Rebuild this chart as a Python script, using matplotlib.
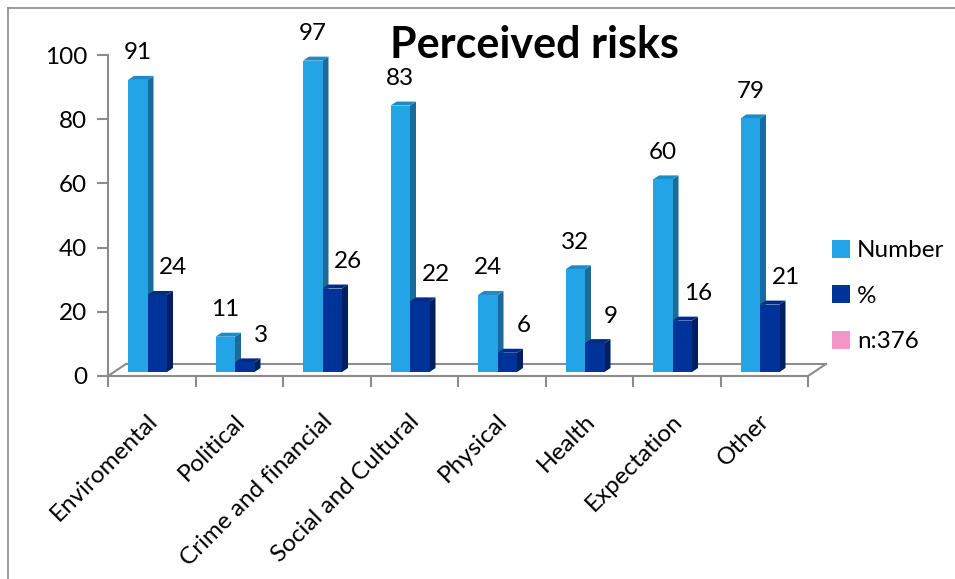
import matplotlib
matplotlib.use("Agg")
import matplotlib.pyplot as plt
from matplotlib.patches import Polygon, Patch
from matplotlib.lines import Line2D
import matplotlib.transforms as mtransforms

categories = ["Enviromental", "Political", "Crime and financial", "Social and Cultural",
              "Physical", "Health", "Expectation", "Other"]
number = [91, 11, 97, 83, 24, 32, 60, 79]
percent = [24, 3, 26, 22, 6, 9, 16, 21]
series_names = ["Number", "%", "n:376"]

W, H = 955, 579
DPI = 100
plt.rcParams['font.family'] = ['Lato', 'DejaVu Sans']

fig = plt.figure(figsize=(W / DPI, H / DPI), dpi=DPI)
fig.patch.set_facecolor('white')

ax_l, ax_r, ax_b, ax_t = 108, 808, 376, 55
ax = fig.add_axes([ax_l / W, (H - ax_b) / H, (ax_r - ax_l) / W, (ax_b - ax_t) / H])
ax.set_xlim(0, 8)
ax.set_ylim(0, 100)
ax.patch.set_alpha(0)

px_x = (ax_r - ax_l) / 8.0      # pixels per x unit
px_y = (ax_b - ax_t) / 100.0    # pixels per y unit

grey = '#8c8c8c'
for s in ['top', 'right', 'bottom']:
    ax.spines[s].set_visible(False)
ax.spines['left'].set_color(grey)
ax.spines['left'].set_linewidth(1.5)

ax.set_yticks([0, 20, 40, 60, 80, 100])
ax.tick_params(axis='y', length=8, width=1.5, color=grey, labelsize=17.5, pad=7, labelcolor='black')
ax.set_xticks(range(9))
ax.set_xticklabels([])
ax.tick_params(axis='x', which='major', length=8, width=1.5, color=grey, direction='out')
ax.set_xticks([i + 0.5 for i in range(8)], minor=True)
ax.set_xticklabels(categories, minor=True, rotation=45, ha='right', va='center',
                   rotation_mode='anchor', fontsize=17.5)
ax.tick_params(axis='x', which='minor', length=0, pad=30)
for lbl in ax.get_xticklabels(minor=True):
    lbl.set_transform(lbl.get_transform() + mtransforms.ScaledTranslation(2 / DPI, 0, fig.dpi_scale_trans))

# floor
fdx = 18 / px_x
fdy = 12 / px_y
floor_kw = dict(color=grey, lw=1.5, clip_on=False, zorder=1)
ax.plot([0, 8], [0, 0], **floor_kw)
ax.plot([fdx, 8 + fdx], [fdy, fdy], **floor_kw)
ax.plot([0, fdx], [0, fdy], **floor_kw)
ax.plot([8, 8 + fdx], [0, fdy], **floor_kw)

# 3D bars
bdx = 6 / px_x
bdy = 4 / px_y
bw = 19.5 / px_x
shift = mtransforms.ScaledTranslation(0, 4 / DPI, fig.dpi_scale_trans)
btrans = ax.transData + shift

c_num = ('#22A4E6', '#1B6B9A', '#1F8BC6')
c_pct = ('#003399', '#001F5E', '#002C85')

def bar3d(x0, h, cols):
    x1 = x0 + bw
    front = Polygon([(x0, 0), (x1, 0), (x1, h), (x0, h)], closed=True,
                    facecolor=cols[0], edgecolor='none', transform=btrans, clip_on=False, zorder=3)
    side = Polygon([(x1, 0), (x1 + bdx, bdy), (x1 + bdx, h + bdy), (x1, h)], closed=True,
                   facecolor=cols[1], edgecolor='none', transform=btrans, clip_on=False, zorder=3)
    top = Polygon([(x0, h), (x1, h), (x1 + bdx, h + bdy), (x0 + bdx, h + bdy)], closed=True,
                  facecolor=cols[2], edgecolor='none', transform=btrans, clip_on=False, zorder=3)
    for p in (side, top, front):
        ax.add_patch(p)

for i in range(8):
    xn = i + 20 / px_x
    xp = xn + bw
    bar3d(xn, number[i], c_num)
    bar3d(xp, percent[i], c_pct)
    ax.annotate(str(number[i]), (xn + bw / 2, number[i]), xycoords=btrans,
                xytext=(0, 27), textcoords='offset pixels', ha='center', va='center',
                fontsize=17.5, annotation_clip=False)
    ax.annotate(str(percent[i]), (xp + bw / 2, percent[i]), xycoords=btrans,
                xytext=(16, 27), textcoords='offset pixels', ha='center', va='center',
                fontsize=17.5, annotation_clip=False)

# title
fig.text(534 / W, 1 - 45 / H, "Perceived risks", fontsize=31, fontweight='bold',
         ha='center', va='center')

# legend
handles = [Patch(facecolor=c_num[0]), Patch(facecolor=c_pct[0]), Patch(facecolor='#F596C8')]
leg = fig.legend(handles, series_names, loc='upper left', bbox_to_anchor=(822 / W, 1 - 230 / H),
                 frameon=False, fontsize=17.5, handlelength=0.75, handleheight=0.75,
                 handletextpad=0.3, labelspacing=1.0, borderaxespad=0)

# chart border
fig.add_artist(Line2D([7.5 / W, 7.5 / W], [0, 1 - 8 / H], color='#8a8a8a', lw=1.2,
                      transform=fig.transFigure))
fig.add_artist(Line2D([7.5 / W, 1], [1 - 8 / H, 1 - 8 / H], color='#8a8a8a', lw=1.2,
                      transform=fig.transFigure))

fig.savefig("out.png", dpi=DPI, facecolor='white')
